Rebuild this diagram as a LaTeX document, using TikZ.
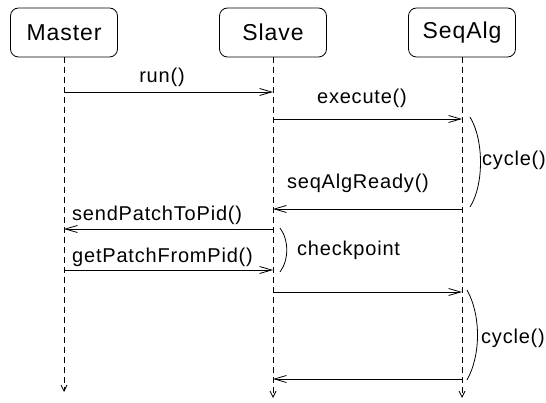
\documentclass[tikz,border=0pt]{standalone}
\usepackage{fontspec}
\setmainfont{Liberation Sans}
\newfontfamily\diafont[LetterSpace=4]{Liberation Sans}
\usetikzlibrary{arrows.meta}
\begin{document}
\begin{tikzpicture}[x=1pt,y=-1pt,
  obj/.style={draw, rounded corners=8pt, minimum width=107pt, minimum height=49pt,
    font=\diafont\fontsize{23}{27}\selectfont, line width=0.8pt, inner sep=0pt},
  life/.style={dash pattern=on 6pt off 4pt, line width=0.8pt,
    -{Straight Barb[length=6pt,width=6pt]}},
  msg/.style={line width=0.8pt, -{Straight Barb[length=12pt,width=7pt]}},
  lbl/.style={font=\diafont\fontsize{20}{24}\selectfont, inner sep=0pt},
  brace/.style={line width=0.8pt}]
\useasboundingbox (0,0) rectangle (546,403);
\fill[white] (0,0) rectangle (546,403);
% objects
\node[obj] (master) at (64,32.5) {Master};
\node[obj] (slave) at (273,32.5) {Slave};
\node[obj] (seqalg) at (462,32.5) {SeqAlg};
% lifeline ends
\coordinate (mend) at (master.south |- 0,392);
\coordinate (send) at (slave.south |- 0,398);
\coordinate (aend) at (seqalg.south |- 0,398);
\draw[life] (master.south) -- (mend);
\draw[life] (slave.south) -- (send);
\draw[life] (seqalg.south) -- (aend);
% message points
\foreach \n/\y in {1/92,2/119,3/209,4/229,5/270,6/292,7/379}{
  \coordinate (M\n) at (master.south |- 0,\y);
  \coordinate (S\n) at (slave.south |- 0,\y);
  \coordinate (A\n) at (seqalg.south |- 0,\y);
}
\draw[msg] (M1) -- (S1);
\node[lbl] (l1) at (162,77) {run()};
\draw[msg] (S2) -- (A2);
\node[lbl] (l2) at (362,98) {execute()};
\draw[msg] (A3) -- (S3);
\node[lbl] (l3) at (358,183) {seqAlgReady()};
\draw[msg] (S4) -- (M4);
\node[lbl, anchor=west] (l4) at (72,215) {sendPatchToPid()};
\draw[msg] (M5) -- (S5);
\node[lbl, anchor=west] (l5) at (72,257) {getPatchFromPid()};
\draw[msg] (S6) -- (A6);
\draw[msg] (A7) -- (S7);
% braces
\draw[brace] (470,117) .. controls (484,140) and (484,185) .. (470,207);
\node[lbl, anchor=west] (c1) at (482,160) {cycle()};
\draw[brace] (280,228) .. controls (289,240) and (289,260) .. (280,272);
\node[lbl, anchor=west] (cp) at (297,250) {checkpoint};
\draw[brace] (467,290) .. controls (481,315) and (481,355) .. (467,380);
\node[lbl, anchor=west] (c2) at (481,338) {cycle()};
\end{tikzpicture}
\end{document}
